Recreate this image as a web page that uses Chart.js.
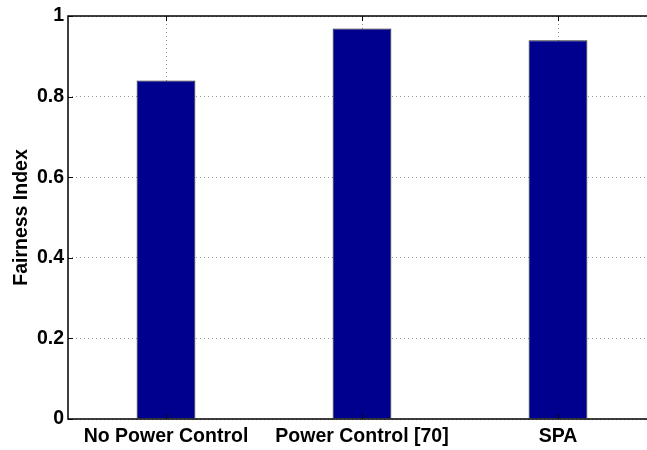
<!DOCTYPE html>
<html>
<head>
<meta charset="utf-8">
<script src="https://cdn.jsdelivr.net/npm/chart.js@4"></script>
<style>
html,body{margin:0;padding:0;background:#fff;overflow:hidden;width:647px;height:450px;}
canvas{display:block;}
</style>
</head>
<body>
<canvas id="c" width="662" height="450" style="width:662px;height:450px"></canvas>
<script>
const categories = ["No Power Control", "Power Control [70]", "SPA"];
const fairness = [0.84, 0.969, 0.94];
const yTicks = [0, 0.2, 0.4, 0.6, 0.8, 1];
const yTitle = "Fairness Index";

const FONT = "'Liberation Sans', Arial, Helvetica, sans-serif";

const boxPlugin = {
  id: 'box',
  afterDatasetsDraw(chart) {
    const {ctx, chartArea: a, scales} = chart;
    ctx.save();
    // inward tick marks
    ctx.strokeStyle = '#000';
    ctx.lineWidth = 1;
    ctx.beginPath();
    scales.x.ticks.forEach((t, i) => {
      const x = Math.round(scales.x.getPixelForTick(i)) + 0.5;
      ctx.moveTo(x, a.top); ctx.lineTo(x, a.top + 5);
      ctx.moveTo(x, a.bottom); ctx.lineTo(x, a.bottom - 5);
    });
    scales.y.ticks.forEach((t, i) => {
      const y = Math.round(scales.y.getPixelForTick(i)) + 0.5;
      ctx.moveTo(a.left, y); ctx.lineTo(a.left + 5, y);
    });
    ctx.stroke();
    // axes box
    ctx.lineWidth = 1.5;
    ctx.beginPath();
    ctx.moveTo(a.right + 5, a.top);
    ctx.lineTo(a.left, a.top);
    ctx.lineTo(a.left, a.bottom);
    ctx.lineTo(a.right + 5, a.bottom);
    ctx.stroke();
    ctx.restore();
  }
};

new Chart(document.getElementById('c'), {
  type: 'bar',
  data: {
    labels: categories,
    datasets: [{
      data: fairness,
      backgroundColor: '#00008F',
      borderColor: '#222222',
      borderWidth: 1,
      barPercentage: 0.3,
      categoryPercentage: 1.0
    }]
  },
  options: {
    responsive: false,
    animation: false,
    devicePixelRatio: 1,
    layout: { padding: { left: 0, top: 16, right: 6, bottom: 0 } },
    plugins: { legend: { display: false }, tooltip: { enabled: false } },
    scales: {
      x: {
        offset: true,
        grid: { offset: false, drawTicks: false, color: '#9a9a9a', lineWidth: 1 },
        border: { display: false, dash: [1, 3] },
        ticks: { color: '#000', padding: 6, font: { family: FONT, size: 19.5, weight: 'bold' }, maxRotation: 0, autoSkip: false },
        afterFit(s) { s.height = 31; }
      },
      y: {
        min: 0, max: 1,
        afterBuildTicks(s) { s.ticks = yTicks.map(v => ({ value: v })); },
        grid: { drawTicks: false, color: '#9a9a9a', lineWidth: 1 },
        border: { display: false, dash: [1, 3] },
        ticks: {
          color: '#000', padding: 4,
          font: { family: FONT, size: 19.5, weight: 'bold' },
          callback: v => String(v)
        },
        title: { display: true, text: yTitle, color: '#000', padding: { top: 10, bottom: 0 },
                 font: { family: FONT, size: 19.5, weight: 'bold' } },
        afterFit(s) { s.width = 68; }
      }
    }
  },
  plugins: [boxPlugin]
});
</script>
</body>
</html>
